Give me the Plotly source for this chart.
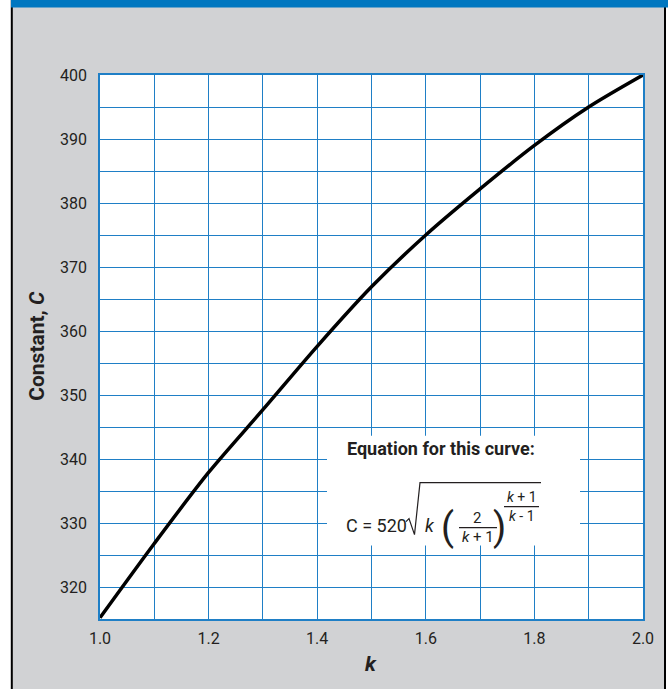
import plotly.graph_objects as go

# values
k_values = [1.0, 1.1, 1.2, 1.3, 1.4, 1.5, 1.6, 1.7, 1.8, 1.9, 2.0]
c_values = [315.2, 326.8, 337.9, 347.7, 357.6, 366.9, 375.0, 382.2, 389.0, 395.0, 400.0]

x_ticks = [1.0, 1.2, 1.4, 1.6, 1.8, 2.0]
y_ticks = [320, 330, 340, 350, 360, 370, 380, 390, 400]

W, H = 668, 689
L, R, T, B = 100, 643, 75, 619.5
GRID = "#1f7fc6"
GRAY = "#d1d2d4"
TXT = "#231f20"
FONT = "Roboto, sans-serif"


def px(x):
    return (x - L) / (R - L)


def py(y):
    return (B - y) / (B - T)


fig = go.Figure()
fig.add_trace(go.Scatter(
    x=k_values, y=c_values, mode="lines",
    line=dict(color="black", width=3.5, shape="spline", smoothing=0.8),
    hoverinfo="skip", showlegend=False,
))

axis_common = dict(
    showline=True, mirror=True, linecolor=GRID, linewidth=1.5,
    showgrid=True, gridcolor=GRID, gridwidth=1.3, zeroline=False,
    ticks="", tickfont=dict(family=FONT, size=16, color=TXT),
)
fig.update_xaxes(range=[1.0, 2.0], tickvals=x_ticks, ticktext=[f"{v:.1f}" for v in x_ticks],
                 minor=dict(dtick=0.1, showgrid=True, gridcolor=GRID, gridwidth=1.3),
                 ticklabelstandoff=4, **axis_common)
fig.update_yaxes(range=[315, 400], tickvals=y_ticks,
                 minor=dict(dtick=5, tick0=315, showgrid=True, gridcolor=GRID, gridwidth=1.3),
                 ticklabelstandoff=8, **axis_common)

shapes = [
    # frame around the page
    dict(type="rect", xref="paper", yref="paper", x0=px(-2), x1=px(11), y0=py(H + 2), y1=py(-2),
         fillcolor="white", line=dict(width=0), layer="above"),
    dict(type="rect", xref="paper", yref="paper", x0=px(666), x1=px(W + 2), y0=py(H + 2), y1=py(-2),
         fillcolor="white", line=dict(width=0), layer="above"),
    dict(type="line", xref="paper", yref="paper", x0=px(11.8), x1=px(11.8), y0=py(H + 2), y1=py(0),
         line=dict(color="black", width=2), layer="above"),
    dict(type="line", xref="paper", yref="paper", x0=px(665), x1=px(665), y0=py(H + 2), y1=py(0),
         line=dict(color="black", width=2), layer="above"),
    dict(type="rect", xref="paper", yref="paper", x0=px(11), x1=px(W + 2), y0=py(7.5), y1=py(-2),
         fillcolor="#0077c0", line=dict(width=0), layer="above"),
    # white box behind the equation
    dict(type="rect", xref="paper", yref="paper", x0=px(327), x1=px(580), y0=py(546), y1=py(436),
         fillcolor="white", line=dict(width=0), layer="above"),
    # radical sign with its overline
    dict(type="path", xref="paper", yref="paper", layer="above",
         path=f"M {px(406)},{py(522)} L {px(409)},{py(519)} L {px(414.5)},{py(535)} "
              f"L {px(420)},{py(483)} L {px(541)},{py(483)}",
         line=dict(color=TXT, width=1.2)),
    # fraction bars
    dict(type="line", xref="paper", yref="paper", x0=px(459), x1=px(497), y0=py(528), y1=py(528),
         line=dict(color=TXT, width=1.2), layer="above"),
    dict(type="line", xref="paper", yref="paper", x0=px(504), x1=px(539), y0=py(507), y1=py(507),
         line=dict(color=TXT, width=1.2), layer="above"),
]


def label(text, x, y, size, bold=False, xanchor="center", angle=0):
    t = f"<b>{text}</b>" if bold else text
    return dict(text=t, x=px(x), y=py(y), xref="paper", yref="paper", showarrow=False,
                xanchor=xanchor, yanchor="middle", textangle=angle,
                font=dict(family=FONT, size=size, color=TXT))


annotations = [
    label("Constant, <i>C</i>", 37, 346, 21, bold=True, angle=-90),
    label("<i>k</i>", 371, 665, 21, bold=True),
    label("Equation for this curve:", 345, 449, 18, bold=True, xanchor="left"),
    label("C = 520", 344, 526, 18, xanchor="left"),
    label("<i>k</i>", 430.5, 526, 18),
    label("(", 447, 527, 38),
    label("2", 477.5, 518, 15),
    label("<i>k</i> + 1", 478, 537.5, 15),
    label(")", 499, 527, 38),
    label("<i>k</i> + 1", 521.5, 497, 14),
    label("<i>k</i> - 1", 521.5, 516, 14),
]

fig.update_layout(
    width=W, height=H,
    margin=dict(l=L, r=W - R, t=T, b=H - B, autoexpand=False),
    paper_bgcolor=GRAY, plot_bgcolor="white",
    shapes=shapes, annotations=annotations,
)

fig.write_html("out.html", config={"displayModeBar": False},
               post_script="document.body.style.margin='0';")
